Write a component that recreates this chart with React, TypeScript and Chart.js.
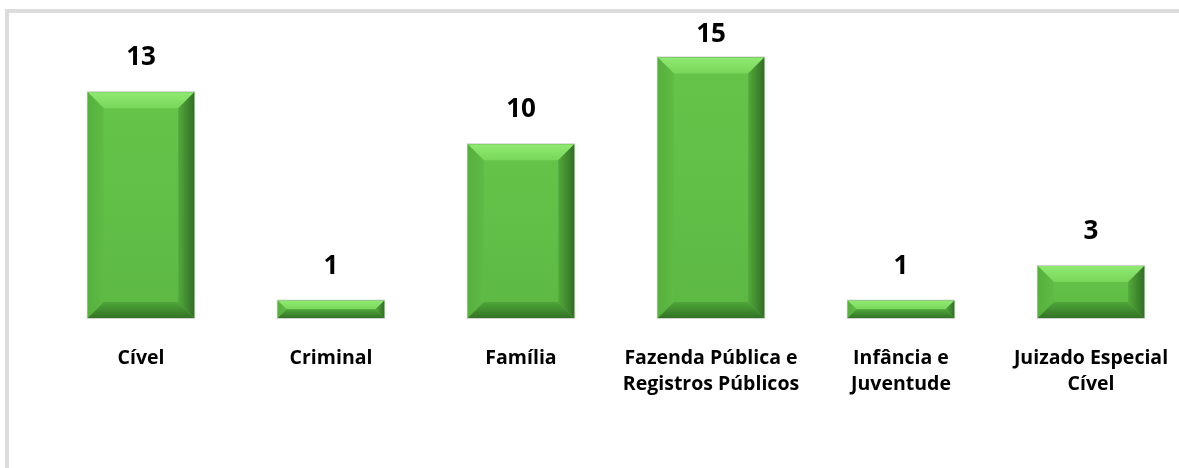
import React, { useEffect, useRef } from "react";
import { Chart, registerables } from "chart.js";

Chart.register(...registerables);

const categories: (string | string[])[] = [
  "Cível",
  "Criminal",
  "Família",
  ["Fazenda Pública e", "Registros Públicos"],
  ["Infância e", "Juventude"],
  ["Juizado Especial", "Cível"],
];
const values: number[] = [13, 1, 10, 15, 1, 3];

const FONT = "'Open Sans', 'Liberation Sans', sans-serif";

const bevelPlugin = {
  id: "bevel",
  afterDatasetsDraw(chart: any) {
    const ctx: CanvasRenderingContext2D = chart.ctx;
    const meta = chart.getDatasetMeta(0);
    meta.data.forEach((bar: any, i: number) => {
      const { x, y, base, width } = bar.getProps(["x", "y", "base", "width"], true);
      const l = x - width / 2;
      const r = x + width / 2;
      const t = Math.min(y, base);
      const b = Math.max(y, base);
      const h = b - t;
      const bv = Math.min(16, h / 2, width / 2);
      ctx.save();
      // face
      const fg = ctx.createLinearGradient(0, t, 0, b);
      fg.addColorStop(0, "#66c44a");
      fg.addColorStop(1, "#5cb843");
      ctx.fillStyle = fg;
      ctx.fillRect(l, t, width, h);
      // top bevel
      const tg = ctx.createLinearGradient(0, t, 0, t + bv);
      tg.addColorStop(0, "#90ea72");
      tg.addColorStop(1, "#78d65a");
      ctx.fillStyle = tg;
      ctx.beginPath();
      ctx.moveTo(l, t);
      ctx.lineTo(r, t);
      ctx.lineTo(r - bv, t + bv);
      ctx.lineTo(l + bv, t + bv);
      ctx.closePath();
      ctx.fill();
      // left bevel
      const lg = ctx.createLinearGradient(l, 0, l + bv, 0);
      lg.addColorStop(0, "#55b03c");
      lg.addColorStop(1, "#5fbb45");
      ctx.fillStyle = lg;
      ctx.beginPath();
      ctx.moveTo(l, t);
      ctx.lineTo(l + bv, t + bv);
      ctx.lineTo(l + bv, b - bv);
      ctx.lineTo(l, b);
      ctx.closePath();
      ctx.fill();
      // right bevel
      const rg = ctx.createLinearGradient(r - bv, 0, r, 0);
      rg.addColorStop(0, "#52aa3b");
      rg.addColorStop(1, "#336f26");
      ctx.fillStyle = rg;
      ctx.beginPath();
      ctx.moveTo(r, t);
      ctx.lineTo(r, b);
      ctx.lineTo(r - bv, b - bv);
      ctx.lineTo(r - bv, t + bv);
      ctx.closePath();
      ctx.fill();
      // bottom bevel
      const bg = ctx.createLinearGradient(0, b - bv, 0, b);
      bg.addColorStop(0, "#4fa63a");
      bg.addColorStop(1, "#337326");
      ctx.fillStyle = bg;
      ctx.beginPath();
      ctx.moveTo(l, b);
      ctx.lineTo(r, b);
      ctx.lineTo(r - bv, b - bv);
      ctx.lineTo(l + bv, b - bv);
      ctx.closePath();
      ctx.fill();
      // soft outline
      ctx.strokeStyle = "rgba(0,0,0,0.18)";
      ctx.lineWidth = 1;
      ctx.strokeRect(l - 0.5, t - 0.5, width + 1, h + 1);
      // value label
      ctx.fillStyle = "#000000";
      ctx.font = `bold 26px ${FONT}`;
      ctx.textAlign = "center";
      ctx.textBaseline = "alphabetic";
      const baseline = Math.max(t - 27, 42);
      ctx.fillText(String(values[i]), x, baseline);
      ctx.restore();
    });
  },
};

export default function App() {
  const ref = useRef<HTMLCanvasElement | null>(null);
  useEffect(() => {
    if (!ref.current) return;
    const chart = new Chart(ref.current, {
      type: "bar",
      data: {
        labels: categories,
        datasets: [
          {
            data: values,
            backgroundColor: "#62be46",
            borderWidth: 0,
            categoryPercentage: 1,
            barPercentage: 0.56,
          },
        ],
      },
      options: {
        animation: false,
        responsive: false,
        devicePixelRatio: 1,
        layout: { padding: { left: 46, right: 54, top: 14, bottom: 0 } },
        plugins: { legend: { display: false }, tooltip: { enabled: false } },
        scales: {
          x: {
            grid: { display: false },
            border: { display: false },
            ticks: {
              color: "#000000",
              font: { family: FONT, weight: "bold", size: 19.5, lineHeight: 1.36 },
              padding: 19,
              maxRotation: 0,
              autoSkip: false,
            },
            afterFit: (scale: any) => {
              scale.height = 150;
            },
          },
          y: {
            display: false,
            min: 0,
            max: 17.5,
          },
        },
      },
      plugins: [bevelPlugin],
    });
    return () => chart.destroy();
  }, []);
  return (
    <div
      style={{
        position: "fixed",
        left: 0,
        top: 0,
        width: 1179,
        height: 468,
        overflow: "hidden",
        background: "#ffffff",
      }}
    >
      <div
        style={{
          position: "absolute",
          left: 5,
          top: 9,
          width: 1300,
          height: 600,
          borderLeft: "4px solid #dcdcdc",
          borderTop: "4px solid #dcdcdc",
        }}
      />
      <canvas
        ref={ref}
        width={1240}
        height={468}
        style={{ position: "absolute", left: 0, top: 0, width: 1240, height: 468 }}
      />
    </div>
  );
}
